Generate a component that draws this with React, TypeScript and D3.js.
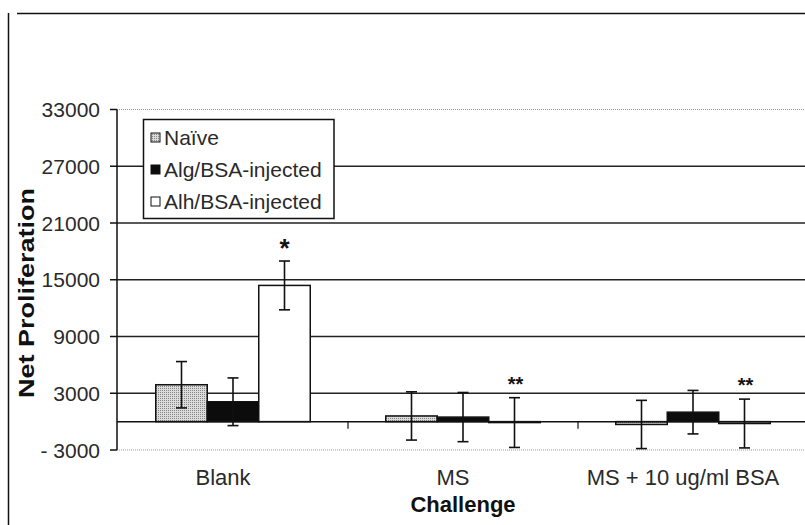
import React from "react";
import * as d3 from "d3";

const categories = ["Blank", "MS", "MS + 10 ug/ml BSA"];
const seriesNames = ["Naïve", "Alg/BSA-injected", "Alh/BSA-injected"];
const naive = [3900, 600, -300];
const alg = [2100, 480, 1000];
const alh = [14400, -100, -200];
const naiveErr = [2450, 2550, 2550];
const algErr = [2520, 2600, 2300];
const alhErr = [2580, 2630, 2580];
const stars = ["*", "**", "**"];
const yTicks = [-3000, 3000, 9000, 15000, 21000, 27000, 33000];

const W = 805;
const H = 525;
const FONT = "'Liberation Sans', Arial, sans-serif";

export default function App() {
  const x = d3.scaleBand<string>().domain(categories).range([118, 808]).paddingInner(0).paddingOuter(0);
  const y = d3.scaleLinear().domain([-3000, 33000]).range([450, 109.5]);
  const barW = 51.5;
  const series = [naive, alg, alh];
  const errs = [naiveErr, algErr, alhErr];
  const fills = ["url(#naivePat)", "#0c0c0c", "#ffffff"];
  const x0 = 117;
  const xr = 808;

  const groupStart = (c: string) => (x(c) as number) + (x.bandwidth() - barW * 3) / 2;

  return (
    <svg width={W} height={H} style={{ position: "absolute", left: 0, top: 0, background: "#fff" }} fontFamily={FONT}>
      <defs>
        <pattern id="naivePat" width={2} height={2} patternUnits="userSpaceOnUse">
          <rect width={2} height={2} fill="#dcdcdc" />
          <rect width={1} height={1} fill="#858585" />
        </pattern>
      </defs>
      {/* frame */}
      <line x1={8.5} x2={8.5} y1={13} y2={525} stroke="#111" strokeWidth={1.5} />
      <line x1={17} x2={805} y1={13.5} y2={13.5} stroke="#111" strokeWidth={1.5} />

      {/* gridlines */}
      {yTicks.map((t) => {
        const dotted = t === 33000 || t === -3000;
        return (
          <line key={"g" + t} x1={x0} x2={xr} y1={y(t)} y2={y(t)}
            stroke={dotted ? "#999" : "#222"} strokeWidth={dotted ? 1 : 1.5}
            strokeDasharray={dotted ? "1,1" : undefined} />
        );
      })}

      {/* y axis */}
      <line x1={x0} x2={x0} y1={y(33000)} y2={y(-3000)} stroke="#111" strokeWidth={1.5} />
      {yTicks.map((t) => (
        <g key={"t" + t}>
          <line x1={110} x2={x0} y1={y(t)} y2={y(t)} stroke="#111" strokeWidth={1.5} />
          <text x={100} y={y(t)} dy="0.36em" textAnchor="end" fontSize={21} fill="#2a2a2a">
            {t < 0 ? "- " + Math.abs(t) : String(t)}
          </text>
        </g>
      ))}

      {/* bars */}
      {categories.map((c, ci) =>
        series.map((s, si) => {
          const v = s[ci];
          const bx = groupStart(c) + si * barW;
          const top = Math.min(y(v), y(0));
          const h = Math.max(Math.abs(y(v) - y(0)), 0.5);
          return (
            <rect key={"b" + ci + si} x={bx} y={top} width={barW} height={h}
              fill={fills[si]} stroke="#111" strokeWidth={1.5} />
          );
        })
      )}

      {/* x axis */}
      <line x1={x0} x2={xr} y1={y(0)} y2={y(0)} stroke="#111" strokeWidth={1.5} />
      {categories.slice(1).map((c) => (
        <line key={"xt" + c} x1={x(c) as number} x2={x(c) as number} y1={y(0)} y2={y(0) + 7} stroke="#111" strokeWidth={1.2} />
      ))}

      {/* error bars */}
      {categories.map((c, ci) =>
        series.map((s, si) => {
          const cx = groupStart(c) + si * barW + barW / 2;
          const v = s[ci];
          const e = errs[si][ci];
          return (
            <g key={"e" + ci + si} stroke="#111" strokeWidth={1.6}>
              <line x1={cx} x2={cx} y1={y(v + e)} y2={y(v - e)} />
              <line x1={cx - 5.5} x2={cx + 5.5} y1={y(v + e)} y2={y(v + e)} />
              <line x1={cx - 5.5} x2={cx + 5.5} y1={y(v - e)} y2={y(v - e)} />
            </g>
          );
        })
      )}

      {/* significance stars */}
      {categories.map((c, ci) => {
        const cx = groupStart(c) + 2 * barW + barW / 2;
        const top = y(alh[ci] + alhErr[ci]);
        const fs = ci === 0 ? 26 : 20;
        return (
          <text key={"s" + ci} x={cx + (ci === 0 ? 0 : 1)} y={top - 18 + fs * 0.55} textAnchor="middle"
            fontSize={fs} fontWeight="bold" fill="#111">
            {stars[ci]}
          </text>
        );
      })}

      {/* category labels */}
      {categories.map((c) => (
        <text key={"c" + c} x={(x(c) as number) + x.bandwidth() / 2 - 10} y={485} textAnchor="middle" fontSize={22} fill="#2a2a2a">
          {c}
        </text>
      ))}

      {/* axis titles */}
      <text x={463} y={512} textAnchor="middle" fontSize={22} fontWeight="bold" fill="#111">Challenge</text>
      <text transform="translate(34,293) rotate(-90)" textAnchor="middle" fontSize={22} fontWeight="bold" fill="#111"
        textLength={210} lengthAdjust="spacingAndGlyphs">Net Proliferation</text>

      {/* legend */}
      <rect x={143.5} y={119.5} width={190.5} height={99} fill="#fff" stroke="#111" strokeWidth={1.5} />
      {seriesNames.map((n, i) => {
        const cy = 137.5 + i * 32;
        return (
          <g key={"l" + i}>
            <rect x={151} y={cy - 4.5} width={9} height={9} fill={fills[i]} stroke="#111" strokeWidth={1} />
            <text x={164} y={cy} dy="0.36em" fontSize={21} fill="#2a2a2a">{n}</text>
          </g>
        );
      })}
    </svg>
  );
}
